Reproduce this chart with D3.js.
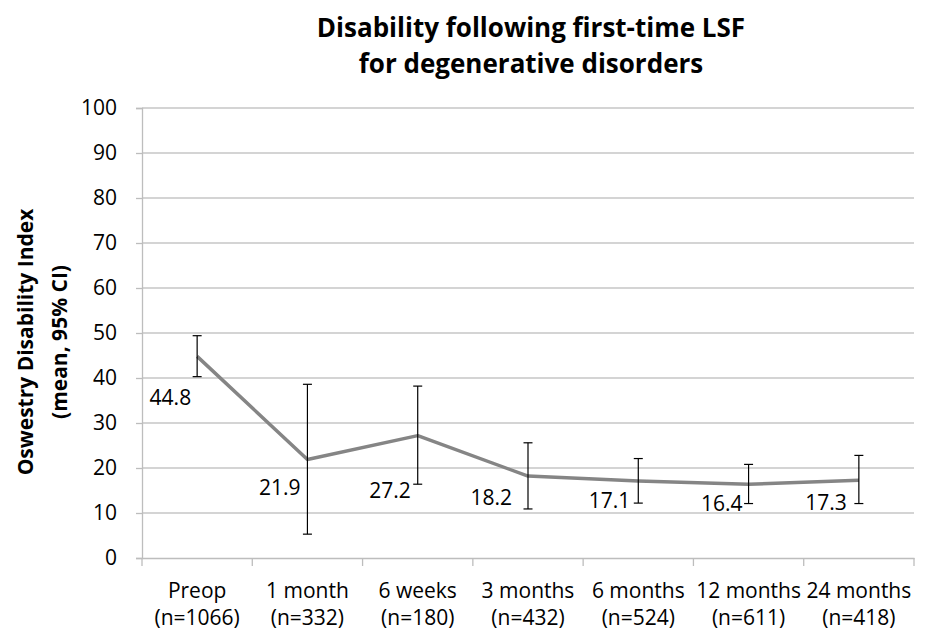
<!DOCTYPE html>
<html><head><meta charset="utf-8">
<script src="https://cdn.jsdelivr.net/npm/d3@7"></script>
<style>
body{margin:0;background:#fff;}
text{font-family:"Open Sans",sans-serif;fill:#000;}
</style></head>
<body><svg id="c" width="925" height="632"></svg>
<script>
const categories = ["Preop","1 month","6 weeks","3 months","6 months","12 months","24 months"];
const sampleSizes = ["(n=1066)","(n=332)","(n=180)","(n=432)","(n=524)","(n=611)","(n=418)"];
const means = [44.8, 21.9, 27.2, 18.2, 17.1, 16.4, 17.3];
const ciLow = [40.3, 5.3, 16.4, 10.9, 12.2, 12.1, 12.1];
const ciHigh = [49.4, 38.6, 38.2, 25.6, 22.1, 20.8, 22.8];
const yTicks = [0,10,20,30,40,50,60,70,80,90,100];

const labelDx = [-6, -7, -7, -16, -8, -6, -12];
const labelDy = [41, 28, 54, 21, 19, 19, 22];

const FONT = "Open Sans";
const svg = d3.select("#c");
const m = {l:142, r:914, t:108, b:558};
const x = d3.scaleBand().domain(categories).range([m.l, m.r]);
const y = d3.scaleLinear().domain([0,100]).range([m.b, m.t]);

svg.append("g").selectAll("line").data(yTicks.filter(d=>d>0)).join("line")
  .attr("x1", m.l).attr("x2", m.r).attr("y1", d=>y(d)).attr("y2", d=>y(d))
  .attr("stroke", "#c6c6c6").attr("stroke-width", 1.3);

const ya = svg.append("g").attr("transform", `translate(${m.l},0)`)
  .call(d3.axisLeft(y).tickValues(yTicks).tickSize(6).tickPadding(19));
ya.select(".domain").attr("stroke", "#bdbdbd").attr("stroke-width", 1.3);
ya.selectAll(".tick line").attr("stroke", "#bdbdbd").attr("stroke-width", 1.3);
ya.selectAll(".tick text").attr("font-size", 21).attr("font-family", FONT).attr("fill", "#000");

const xa = svg.append("g").attr("transform", `translate(0,${m.b})`)
  .call(d3.axisBottom(x).tickSize(0).tickFormat(""));
xa.select(".domain").attr("stroke", "#bdbdbd").attr("stroke-width", 1.3);
const bounds = d3.range(categories.length + 1).map(i => m.l + i * x.step());
svg.append("g").selectAll("line").data(bounds).join("line")
  .attr("x1", d=>d).attr("x2", d=>d).attr("y1", m.b).attr("y2", m.b + 8)
  .attr("stroke", "#bdbdbd").attr("stroke-width", 1.3);

const xl = svg.append("g");
categories.forEach((c,i)=>{
  const cx = x(c) + x.bandwidth()/2;
  xl.append("text").attr("x", cx).attr("y", 598).attr("text-anchor","middle").attr("font-size", 21).text(c);
  xl.append("text").attr("x", cx).attr("y", 625).attr("text-anchor","middle").attr("font-size", 21).text(sampleSizes[i]);
});

const cxv = i => x(categories[i]) + x.bandwidth()/2;

svg.append("path").datum(means)
  .attr("d", d3.line().x((d,i)=>cxv(i)).y(d=>y(d)))
  .attr("fill","none").attr("stroke","#858585").attr("stroke-width",3.5).attr("stroke-linejoin","round");

const eb = svg.append("g").attr("stroke","#000").attr("stroke-width",1.2);
means.forEach((d,i)=>{
  const cx = cxv(i);
  eb.append("line").attr("x1",cx).attr("x2",cx).attr("y1",y(ciLow[i])).attr("y2",y(ciHigh[i]));
  eb.append("line").attr("x1",cx-4.5).attr("x2",cx+4.5).attr("y1",y(ciLow[i])).attr("y2",y(ciLow[i]));
  eb.append("line").attr("x1",cx-4.5).attr("x2",cx+4.5).attr("y1",y(ciHigh[i])).attr("y2",y(ciHigh[i]));
});

svg.append("g").selectAll("text").data(means).join("text")
  .attr("x",(d,i)=>cxv(i)+labelDx[i]).attr("y",(d,i)=>y(d)+labelDy[i])
  .attr("text-anchor","end").attr("dominant-baseline","central")
  .attr("font-size",21).text(d=>d.toFixed(1));

svg.append("text").attr("x",531).attr("y",37).attr("text-anchor","middle")
  .attr("font-size",26).attr("font-weight","bold").text("Disability following first-time LSF");
svg.append("text").attr("x",531).attr("y",73).attr("text-anchor","middle")
  .attr("font-size",26).attr("font-weight","bold").text("for degenerative disorders");

const yt = svg.append("g").attr("transform","translate(0,342) rotate(-90)");
yt.append("text").attr("x",0).attr("y",33).attr("text-anchor","middle")
  .attr("font-size",21).attr("font-weight","bold").text("Oswestry Disability Index");
yt.append("text").attr("x",0).attr("y",67).attr("text-anchor","middle")
  .attr("font-size",21).attr("font-weight","bold").text("(mean, 95% CI)");
</script></body></html>
